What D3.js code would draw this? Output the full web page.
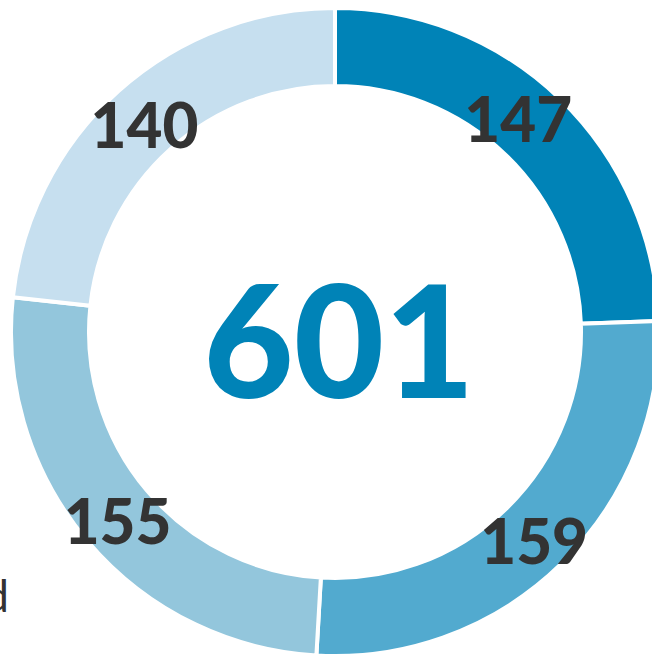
<!DOCTYPE html>
<html>
<head>
<meta charset="utf-8">
<script src="https://cdn.jsdelivr.net/npm/d3@7"></script>
<style>
  html, body { margin: 0; padding: 0; background: #fff; overflow: hidden; }
  svg { display: block; }
</style>
</head>
<body>
<svg id="donutSvg" width="652" height="655"></svg>
<script>
// slices clockwise from 12 o'clock
var categories = ["A", "B", "C", "D"];
var values = [147, 159, 155, 140];
var colors = ["#0083b7", "#52aacf", "#93c6dc", "#c6dfef"];
var legendText = "d";

var donut = (function () {
    var svg = d3.select("#donutSvg");
    function drawDonut() {
        svg.selectAll("*").remove();
        let cx = 335, cy = 332;
        let outerR = 324, innerR = 246;
        let total = d3.sum(values);

        let pie = d3.pie().sort(null).value(function (d) { return d; });
        let arc = d3.arc().innerRadius(innerR).outerRadius(outerR);
        let arcs = pie(values);

        let g = svg.append("g").attr("transform", "translate(" + cx + "," + cy + ")");

        //画扇形
        g.selectAll("path").data(arcs).enter()
            .append("path")
            .attr("d", arc)
            .style("fill", function (d, i) { return colors[i]; })
            .attr("stroke", "#fff")
            .attr("stroke-width", 4);

        //数值标签 (first label sits a bit earlier on its slice)
        let nudge = [-0.07, 0, 0, 0];
        g.selectAll("text.lbl").data(arcs).enter()
            .append("text")
            .attr("class", "lbl")
            .attr("transform", function (d, i) {
                let a = (d.startAngle + d.endAngle) / 2 + nudge[i];
                return "translate(" + (285 * Math.sin(a)) + "," + (4 - 285 * Math.cos(a)) + ")";
            })
            .attr("text-anchor", "middle")
            .attr("dominant-baseline", "central")
            .style("font-family", "Lato, 'Noto Sans', sans-serif")
            .style("font-weight", 900)
            .style("font-size", "62px")
            .style("fill", "#333333")
            .text(function (d) { return d.value; });

        //中间总数
        g.append("text")
            .attr("x", 4)
            .attr("y", 5)
            .attr("text-anchor", "middle")
            .attr("dominant-baseline", "central")
            .style("font-family", "Lato, 'Noto Sans', sans-serif")
            .style("font-weight", 900)
            .style("font-size", "156px")
            .style("fill", "#0083b7")
            .text(total);

        // legend text, cut off at the left edge as in the original
        svg.append("text")
            .attr("x", 9)
            .attr("y", 612)
            .attr("text-anchor", "end")
            .style("font-family", "Lato, 'Noto Sans', sans-serif")
            .style("font-weight", 400)
            .style("font-size", "44px")
            .style("fill", "#333333")
            .text(legendText);
    }
    return { drawDonut };
})();
donut.drawDonut();
</script>
</body>
</html>
